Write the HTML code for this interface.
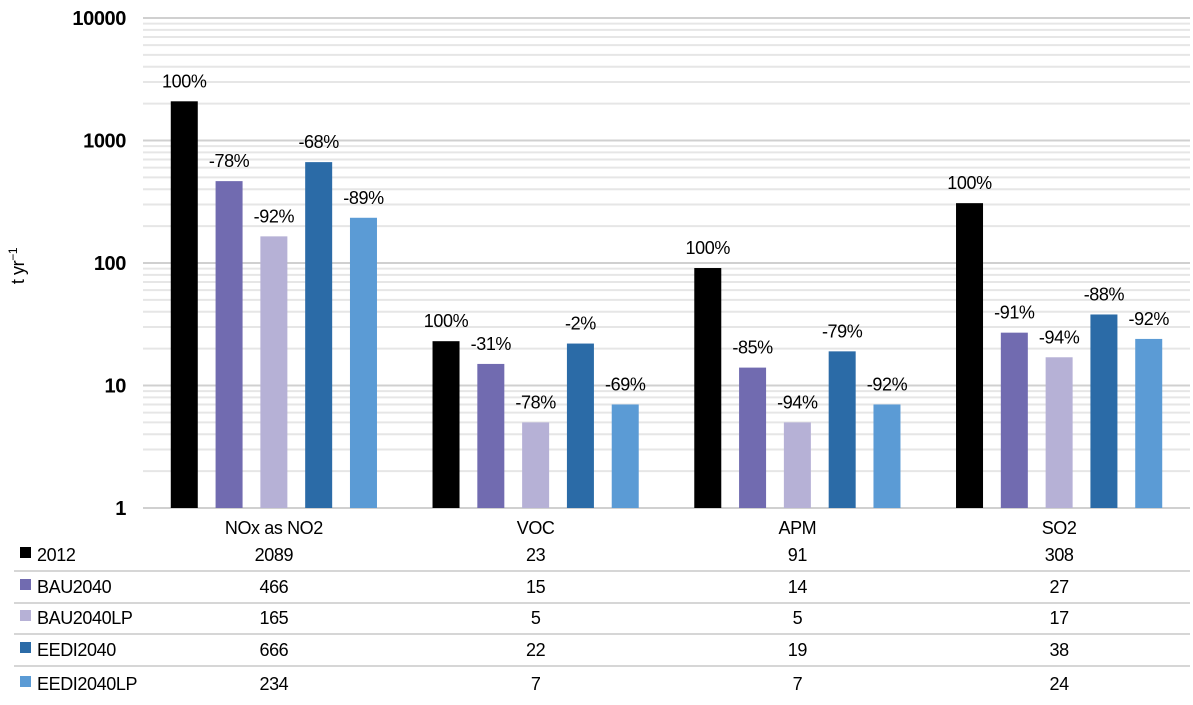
<!DOCTYPE html>
<html><head><meta charset="utf-8"><style>
body{margin:0;background:#fff;}
svg text{font-family:"Liberation Sans Narrow","Liberation Sans",sans-serif;fill:#000;letter-spacing:-0.4px;}
</style></head><body>
<svg id="chart" width="1193" height="700" viewBox="0 0 1193 700" xmlns="http://www.w3.org/2000/svg">
<g id="grid"></g>
<g id="yaxis"></g>
<text transform="translate(24,266) rotate(-90)" text-anchor="middle" font-size="18">t  yr<tspan dy="-7" font-size="12">−1</tspan></text>
<g id="bars"></g>
<g id="table"></g>
</svg>
<script>
const categories=["NOx as NO2","VOC","APM","SO2"];
const seriesNames=["2012","BAU2040","BAU2040LP","EEDI2040","EEDI2040LP"];
const s2012=[2089,23,91,308];
const sBAU2040=[466,15,14,27];
const sBAU2040LP=[165,5,5,17];
const sEEDI2040=[666,22,19,38];
const sEEDI2040LP=[234,7,7,24];
const pct2012=["100%","100%","100%","100%"];
const pctBAU2040=["-78%","-31%","-85%","-91%"];
const pctBAU2040LP=["-92%","-78%","-94%","-94%"];
const pctEEDI2040=["-68%","-2%","-79%","-88%"];
const pctEEDI2040LP=["-89%","-69%","-92%","-92%"];
const yTicks=[1,10,100,1000,10000];

const series=[s2012,sBAU2040,sBAU2040LP,sEEDI2040,sEEDI2040LP];
const pcts=[pct2012,pctBAU2040,pctBAU2040LP,pctEEDI2040,pctEEDI2040LP];
const colors=["#000000","#716bb0","#b6b1d6","#2b6ba7","#5b9bd5"];
const NS="http://www.w3.org/2000/svg";
const X0=143,X1=1190,Y0=508,DEC=122.5;
const gw=(X1-X0)/categories.length;
const y=v=>Y0-Math.log10(v)*DEC;
const xc=i=>X0+gw*(i+0.5);
function mk(tag,attrs,parent,txt){const e=document.createElementNS(NS,tag);for(const k in attrs)e.setAttribute(k,attrs[k]);if(txt!==undefined)e.textContent=txt;parent.appendChild(e);return e;}
const grid=document.getElementById('grid'),yax=document.getElementById('yaxis'),bars=document.getElementById('bars'),tbl=document.getElementById('table');
for(let d=0;d<yTicks.length-1;d++){for(let m=2;m<=9;m++){const l=mk('line',{x1:X0,x2:X1,y1:y(yTicks[d]*m),y2:y(yTicks[d]*m),stroke:'#e6e6e6','stroke-width':2},grid);

}}
yTicks.forEach(t=>{const l=mk('line',{x1:X0,x2:X1,y1:y(t),y2:y(t),stroke:'#d0d0d0','stroke-width':2},grid);


const tx=mk('text',{x:126,y:y(t)+7,'text-anchor':'end','font-size':20,'font-weight':'bold'},yax,String(t));

});
const bw=27,sp=44.8;
categories.forEach((c,i)=>{
 series.forEach((s,j)=>{const cx=xc(i)+(j-2)*sp;const top=y(s[i]);
  const r=mk('rect',{x:cx-bw/2,y:top,width:bw,height:Y0-top,fill:colors[j]},bars);
  
  
  const t=mk('text',{x:cx,y:top-14,'text-anchor':'middle','font-size':18},bars,pcts[j][i]);
  
  });
 const cl=mk('text',{x:xc(i),y:534,'text-anchor':'middle','font-size':18},tbl,c);
 
 
});
const rowY=[561,593,624,656,690];
seriesNames.forEach((n,j)=>{
 const sw=mk('rect',{x:20,y:rowY[j]-14,width:11,height:11,fill:colors[j]},tbl);
 
 
 const lt=mk('text',{x:37,y:rowY[j],'font-size':18},tbl,n);
 
 
 categories.forEach((c,i)=>{const v=mk('text',{x:xc(i),y:rowY[j],'text-anchor':'middle','font-size':18},tbl,String(series[j][i]));
  
  });
 if(j<seriesNames.length-1){const ly=rowY[j]+10;const l=mk('line',{x1:14,x2:1190,y1:ly,y2:ly,stroke:'#c8c8c8','stroke-width':1.5},tbl);
  
  }
});
</script>
</body></html>
